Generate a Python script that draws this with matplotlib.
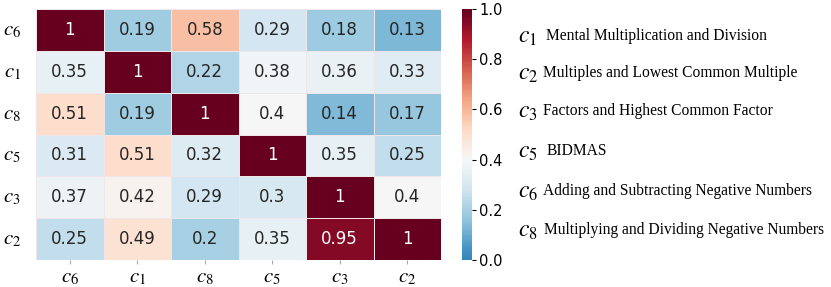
import numpy as np
import pandas as pd
import matplotlib
matplotlib.use("Agg")
import matplotlib.pyplot as plt
import seaborn as sns

labels = ["c_6", "c_1", "c_8", "c_5", "c_3", "c_2"]
row_c6 = [1, 0.19, 0.58, 0.29, 0.18, 0.13]
row_c1 = [0.35, 1, 0.22, 0.38, 0.36, 0.33]
row_c8 = [0.51, 0.19, 1, 0.4, 0.14, 0.17]
row_c5 = [0.31, 0.51, 0.32, 1, 0.35, 0.25]
row_c3 = [0.37, 0.42, 0.29, 0.3, 1, 0.4]
row_c2 = [0.25, 0.49, 0.2, 0.35, 0.95, 1]

legend_keys = ["c_1", "c_2", "c_3", "c_5", "c_6", "c_8"]
legend_names = ["Mental Multiplication and Division",
                "Multiples and Lowest Common Multiple",
                "Factors and Highest Common Factor",
                "BIDMAS",
                "Adding and Subtracting Negative Numbers",
                "Multiplying and Dividing Negative Numbers"]

plt.rcParams["mathtext.fontset"] = "stix"

W, H = 831, 287
fig = plt.figure(figsize=(W / 100, H / 100), dpi=100)
ax = fig.add_axes([36 / W, 1 - 260 / H, (441 - 36) / W, (260 - 9) / H])
cax = fig.add_axes([462 / W, 1 - 260 / H, 10 / W, (260 - 9) / H])

data = pd.DataFrame([row_c6, row_c1, row_c8, row_c5, row_c3, row_c2],
                    index=labels, columns=labels)
tick_text = [f"${l}$" for l in labels]
sns.heatmap(data, ax=ax, cbar_ax=cax, cmap="RdBu_r", vmin=0, vmax=1, center=0.4,
            annot=True, fmt="g", annot_kws={"fontsize": 12},
            linewidths=0.5, linecolor="#f0e6ea",
            xticklabels=tick_text, yticklabels=tick_text)

ax.tick_params(axis="x", length=3, color="#aaaaaa", labelsize=15, pad=2)
ax.tick_params(axis="y", length=0, labelsize=15, pad=11)
for t in ax.get_yticklabels():
    t.set_rotation(0)
cax.tick_params(labelsize=10.5, length=3, pad=2)
cax.set_yticks([0, 0.2, 0.4, 0.6, 0.8, 1.0])
cax.set_yticklabels(["0.0", "0.2", "0.4", "0.6", "0.8", "1.0"])

ys = [36, 73, 111, 151, 191, 230]
xs = [546, 543, 543, 547, 543, 544]
for key, name, y, x in zip(legend_keys, legend_names, ys, xs):
    fig.text(518 / W, 1 - y / H, f"${key}$", fontsize=17, va="center", ha="left")
    fig.text(x / W, 1 - y / H, name, fontsize=11.2, va="center", ha="left",
             family="Liberation Serif")

fig.savefig("out.png", dpi=100)
